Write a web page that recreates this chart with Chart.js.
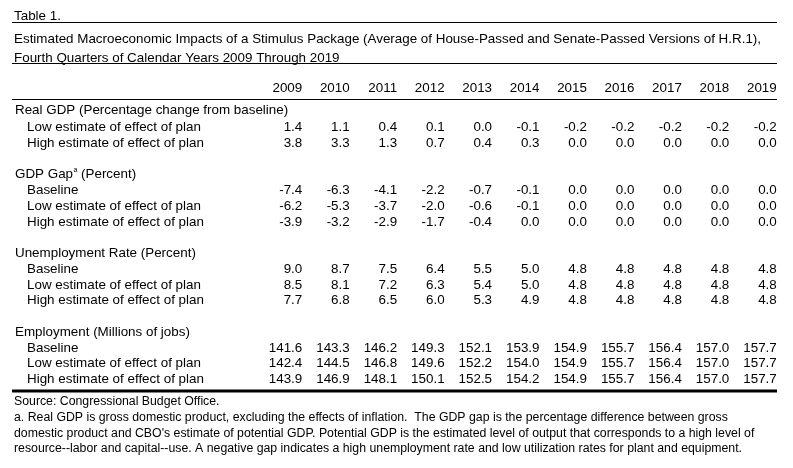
<!DOCTYPE html>
<html>
<head>
<meta charset="utf-8">
<script src="https://cdn.jsdelivr.net/npm/chart.js@4.4.1/dist/chart.umd.min.js"></script>
<style>
  html, body { margin: 0; padding: 0; background: #fff; }
  #wrap { width: 793px; height: 468px; position: relative; }
  canvas { display: block; }
</style>
</head>
<body>
<div id="wrap"><canvas id="c" width="793" height="468"></canvas></div>
<script>
// ---- Data ----
const years = ['2009','2010','2011','2012','2013','2014','2015','2016','2017','2018','2019'];

const tableLabel = 'Table 1.';
const titleLines = [
  'Estimated Macroeconomic Impacts of a Stimulus Package (Average of House-Passed and Senate-Passed Versions of H.R.1),',
  'Fourth Quarters of Calendar Years 2009 Through 2019'
];
const footLines = [
  'Source: Congressional Budget Office.',
  'a. Real GDP is gross domestic product, excluding the effects of inflation.  The GDP gap is the percentage difference between gross',
  'domestic product and CBO\'s estimate of potential GDP. Potential GDP is the estimated level of output that corresponds to a high level of',
  'resource--labor and capital--use. A negative gap indicates a high unemployment rate and low utilization rates for plant and equipment.'
];

const sectionHeaders = [
  'Real GDP (Percentage change from baseline)',
  'GDP Gap',
  'Unemployment Rate (Percent)',
  'Employment (Millions of jobs)'
];

const realGdpLow  = [1.4, 1.1, 0.4, 0.1, 0.0, -0.1, -0.2, -0.2, -0.2, -0.2, -0.2];
const realGdpHigh = [3.8, 3.3, 1.3, 0.7, 0.4, 0.3, 0.0, 0.0, 0.0, 0.0, 0.0];

const gapBaseline = [-7.4, -6.3, -4.1, -2.2, -0.7, -0.1, 0.0, 0.0, 0.0, 0.0, 0.0];
const gapLow      = [-6.2, -5.3, -3.7, -2.0, -0.6, -0.1, 0.0, 0.0, 0.0, 0.0, 0.0];
const gapHigh     = [-3.9, -3.2, -2.9, -1.7, -0.4, 0.0, 0.0, 0.0, 0.0, 0.0, 0.0];

const unempBaseline = [9.0, 8.7, 7.5, 6.4, 5.5, 5.0, 4.8, 4.8, 4.8, 4.8, 4.8];
const unempLow      = [8.5, 8.1, 7.2, 6.3, 5.4, 5.0, 4.8, 4.8, 4.8, 4.8, 4.8];
const unempHigh     = [7.7, 6.8, 6.5, 6.0, 5.3, 4.9, 4.8, 4.8, 4.8, 4.8, 4.8];

const empBaseline = [141.6, 143.3, 146.2, 149.3, 152.1, 153.9, 154.9, 155.7, 156.4, 157.0, 157.7];
const empLow      = [142.4, 144.5, 146.8, 149.6, 152.2, 154.0, 154.9, 155.7, 156.4, 157.0, 157.7];
const empHigh     = [143.9, 146.9, 148.1, 150.1, 152.5, 154.2, 154.9, 155.7, 156.4, 157.0, 157.7];

// Row layout (row index on the y scale)
const rows = [
  { label: 'Low estimate of effect of plan',  values: realGdpLow,   row: 0 },
  { label: 'High estimate of effect of plan', values: realGdpHigh,  row: 1 },
  { label: 'Baseline',                        values: gapBaseline,  row: 4 },
  { label: 'Low estimate of effect of plan',  values: gapLow,       row: 5 },
  { label: 'High estimate of effect of plan', values: gapHigh,      row: 6 },
  { label: 'Baseline',                        values: unempBaseline,row: 9 },
  { label: 'Low estimate of effect of plan',  values: unempLow,     row: 10 },
  { label: 'High estimate of effect of plan', values: unempHigh,    row: 11 },
  { label: 'Baseline',                        values: empBaseline,  row: 14 },
  { label: 'Low estimate of effect of plan',  values: empLow,       row: 15 },
  { label: 'High estimate of effect of plan', values: empHigh,      row: 16 }
];
const headerRows = [-1.08, 3, 8, 13];
const yearRow = -2.48;

// ---- Chart ----
const FONT = '13.4px "Liberation Sans", Arial, sans-serif';
const FOOTFONT = '12.3px "Liberation Sans", Arial, sans-serif';
const SUPFONT = '7px "Liberation Sans", Arial, sans-serif';

const tablePlugin = {
  id: 'tableText',
  afterDatasetsDraw(chart) {
    const ctx = chart.ctx;
    const xs = chart.scales.x, ys = chart.scales.y;
    const colW = (xs.right - xs.left) / years.length;
    ctx.save();
    ctx.fillStyle = '#000';
    ctx.font = FONT;
    ctx.textBaseline = 'alphabetic';

    // Titles
    ctx.textAlign = 'left';
    ctx.fillText(tableLabel, 14, 19.5);
    ctx.fillText(titleLines[0], 14, 43);
    ctx.fillText(titleLines[1], 14, 62);

    // Rules
    ctx.fillRect(12, 22, 765, 1);
    ctx.fillRect(12, 63, 765, 1);
    ctx.fillRect(12, 99, 765, 1);
    ctx.fillRect(12, 389.5, 765, 3);

    // Year header
    ctx.textAlign = 'right';
    years.forEach((yr, i) => {
      ctx.fillText(yr, xs.getPixelForValue(i) + colW / 2, ys.getPixelForValue(yearRow));
    });

    // Section headers
    ctx.textAlign = 'left';
    sectionHeaders.forEach((h, i) => {
      const y = ys.getPixelForValue(headerRows[i]);
      ctx.fillText(h, 15, y);
      if (i === 1) {
        const w = ctx.measureText(h).width;
        ctx.font = SUPFONT;
        ctx.fillText('a', 15 + w + 0.5, y - 6);
        ctx.font = FONT;
        ctx.fillText('(Percent)', 15 + w + 8, y);
      }
    });

    // Row labels
    rows.forEach(r => {
      ctx.fillText(r.label, 27, ys.getPixelForValue(r.row));
    });

    // Cell values, placed at the dataset points
    ctx.textAlign = 'right';
    chart.data.datasets.forEach((ds, di) => {
      const meta = chart.getDatasetMeta(di);
      meta.data.forEach((pt, i) => {
        ctx.fillText(ds.data[i].v.toFixed(1), pt.x + colW / 2, pt.y);
      });
    });

    // Footnotes
    ctx.font = FOOTFONT;
    ctx.textAlign = 'left';
    ctx.fillText(footLines[0], 14, 405);
    ctx.fillText(footLines[1], 14, 421);
    ctx.fillText(footLines[2], 14, 436.5);
    ctx.fillText(footLines[3], 14, 452);
    ctx.restore();
  }
};

new Chart(document.getElementById('c'), {
  type: 'line',
  data: {
    labels: years,
    datasets: rows.map(r => ({
      label: r.label,
      data: r.values.map((v, i) => ({ x: years[i], y: r.row, v: v })),
      showLine: false,
      pointRadius: 0,
      pointHoverRadius: 0
    }))
  },
  options: {
    responsive: false,
    animation: false,
    devicePixelRatio: 1,
    events: [],
    layout: { padding: { left: 254.8, right: 16.25, top: 83.75, bottom: 69.25 } },
    plugins: { legend: { display: false }, tooltip: { enabled: false }, title: { display: false } },
    scales: {
      x: { type: 'category', offset: true, display: false },
      y: { type: 'linear', min: -3, max: 17, reverse: true, display: false }
    }
  },
  plugins: [tablePlugin]
});
</script>
</body>
</html>
